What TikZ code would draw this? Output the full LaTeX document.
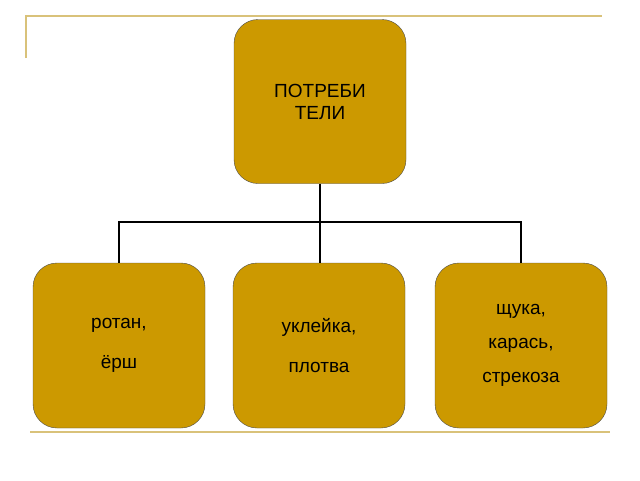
\documentclass[tikz,border=0pt]{standalone}
\usepackage{fontspec}
\setmainfont{Liberation Sans}
\definecolor{gold}{HTML}{CC9900}
\definecolor{frame}{HTML}{D9C27A}
\tikzset{
  box/.style={draw=black!70, fill=gold, rounded corners=24pt, minimum width=172pt,
    minimum height=164pt, align=center, font=\fontsize{19}{22}\selectfont, inner sep=0pt},
  link/.style={draw, line width=1.3pt},
}
\begin{document}
\begin{tikzpicture}[x=1pt,y=-1pt]
  \useasboundingbox (0,0) rectangle (640,480);
  \draw[frame, line width=2pt] (26,58) -- (26,16) -- (602,16);
  \draw[frame, line width=2pt] (30,432) -- (610,432);
  \node[box] (top) at (320,101.5) {ПОТРЕБИ\\ТЕЛИ};
  \node[box, minimum height=165pt] (left) at (119,345.5) {ротан,\\[18pt]ёрш};
  \node[box, minimum height=165pt] (mid) at (319,345.5) {уклейка,\\[18pt]плотва};
  \node[box, minimum height=165pt] (right) at (521,345.5) {щука,\\[12pt]карась,\\[12pt]стрекоза};
  \coordinate (bus) at (320,222);
  \draw[link] (top.south) -- (bus);
  \draw[link] (left.north) |- (bus) -| (right.north);
  \draw[link] (bus) -- (mid.north -| bus);
\end{tikzpicture}
\end{document}
